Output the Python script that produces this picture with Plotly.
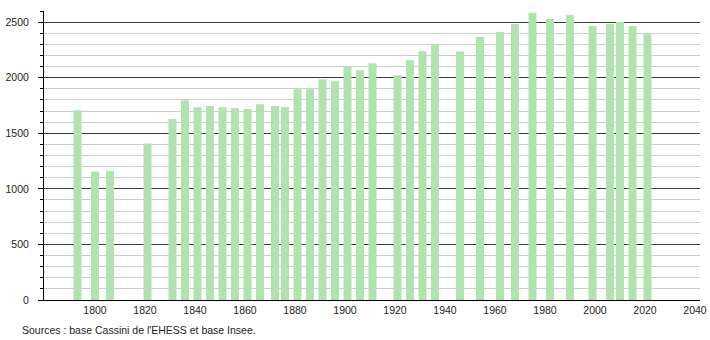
import plotly.graph_objects as go

years = [1793, 1800, 1806, 1821, 1831, 1836, 1841, 1846, 1851, 1856, 1861, 1866,
         1872, 1876, 1881, 1886, 1891, 1896, 1901, 1906, 1911, 1921, 1926, 1931,
         1936, 1946, 1954, 1962, 1968, 1975, 1982, 1990, 1999, 2006, 2010, 2015, 2021]
population = [1708, 1154, 1160, 1409, 1628, 1798, 1735, 1745, 1735, 1727, 1718, 1760,
              1745, 1736, 1895, 1895, 1987, 1969, 2098, 2068, 2131, 2023, 2158, 2239,
              2299, 2239, 2368, 2410, 2482, 2584, 2527, 2563, 2464, 2482, 2500, 2464, 2398]
x_ticks = [1800, 1820, 1840, 1860, 1880, 1900, 1920, 1940, 1960, 1980, 2000, 2020, 2040]
y_ticks = [0, 500, 1000, 1500, 2000, 2500]
source_text = "Sources : base Cassini de l'EHESS et base Insee."

fig = go.Figure()
fig.add_trace(go.Bar(
    x=years, y=population, width=3.2,
    marker=dict(color="#b0e3b0", line=dict(width=0)),
    hoverinfo="x+y",
))

fig.update_layout(
    width=710, height=340,
    margin=dict(l=44, r=10, t=11, b=40, autoexpand=False),
    paper_bgcolor="white", plot_bgcolor="white",
    showlegend=False,
    font=dict(family="Liberation Sans, Arial, sans-serif", size=10.5, color="#222"),
    xaxis=dict(
        range=[1779.6, 2042], tickvals=x_ticks, showgrid=False, zeroline=False,
        showline=True, linecolor="black", linewidth=1, ticks="", automargin=False,
        tickfont=dict(size=10.5, color="#222"),
    ),
    yaxis=dict(
        range=[0, 2600], tickvals=y_ticks, showgrid=True, gridcolor="#3a3a3a",
        gridwidth=1, zeroline=False, showline=True, linecolor="black", linewidth=1,
        ticks="outside", ticklen=5, tickcolor="black", ticklabelstandoff=7,
        automargin=False,
        tickfont=dict(size=10.5, color="#222"),
        minor=dict(dtick=100, tick0=0, showgrid=True, gridcolor="#cccccc", gridwidth=1,
                   ticks="outside", ticklen=3, tickcolor="black"),
    ),
    annotations=[dict(
        text=source_text, xref="paper", yref="paper",
        x=-24 / 656, y=-30 / 289, xanchor="left", yanchor="middle",
        showarrow=False, font=dict(size=10.5, color="#222"),
    )],
)

fig.write_html("out.html")
